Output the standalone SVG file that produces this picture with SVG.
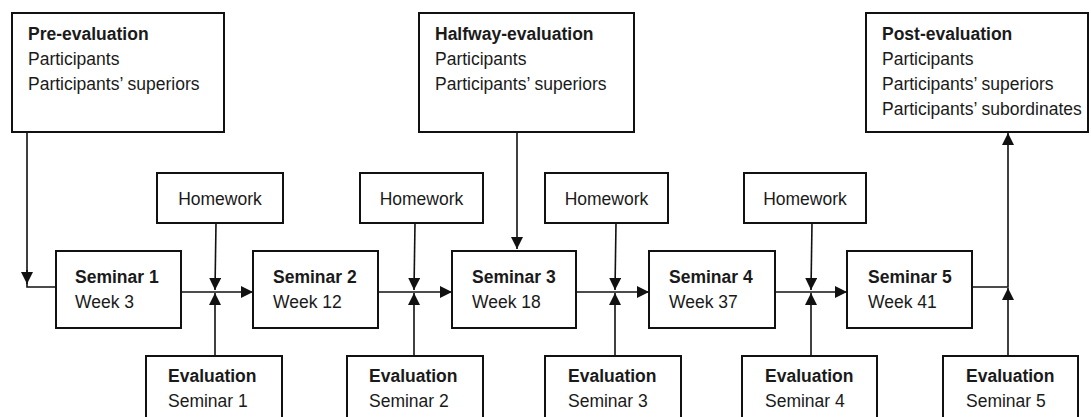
<svg xmlns="http://www.w3.org/2000/svg" width="1091" height="417" viewBox="0 0 1091 417">
<style>
  .box{fill:#fff;stroke:#111;stroke-width:2}
  .t{font-family:"Liberation Sans",Arial,sans-serif;font-size:17.5px;fill:#1a1a1a}
  .b{font-weight:bold}
  .c{text-anchor:middle}
  .ln{fill:none;stroke:#111;stroke-width:1.6}
</style>
<defs>
  <marker id="ah" markerUnits="userSpaceOnUse" markerWidth="12" markerHeight="12" refX="12" refY="6" orient="auto">
    <path d="M0,0 L12,6 L0,12 z" fill="#111"/>
  </marker>
</defs>
<rect width="1091" height="417" fill="#fff"/>

<g id="connectors">
  <polyline class="ln" points="27,132 27,287 56,287"/>
  <line class="ln" x1="27" y1="270" x2="27" y2="284" marker-end="url(#ah)"/>
  <line class="ln" x1="181" y1="292" x2="253" y2="292" marker-end="url(#ah)"/>
  <line class="ln" x1="378" y1="292" x2="452" y2="292" marker-end="url(#ah)"/>
  <line class="ln" x1="576" y1="292" x2="649" y2="292" marker-end="url(#ah)"/>
  <line class="ln" x1="775" y1="292" x2="847" y2="292" marker-end="url(#ah)"/>
  <line class="ln" x1="216" y1="223" x2="215" y2="290" marker-end="url(#ah)"/>
  <line class="ln" x1="415" y1="223" x2="414" y2="290" marker-end="url(#ah)"/>
  <line class="ln" x1="616" y1="223" x2="615" y2="290" marker-end="url(#ah)"/>
  <line class="ln" x1="812" y1="223" x2="811" y2="290" marker-end="url(#ah)"/>
  <line class="ln" x1="215" y1="356" x2="215" y2="293" marker-end="url(#ah)"/>
  <line class="ln" x1="414" y1="356" x2="414" y2="293" marker-end="url(#ah)"/>
  <line class="ln" x1="615" y1="356" x2="615" y2="293" marker-end="url(#ah)"/>
  <line class="ln" x1="811" y1="356" x2="811" y2="293" marker-end="url(#ah)"/>
  <line class="ln" x1="517" y1="132" x2="517" y2="249" marker-end="url(#ah)"/>
  <polyline class="ln" points="972,287 1008,287 1008,133" marker-end="url(#ah)"/>
  <line class="ln" x1="1008" y1="356" x2="1008" y2="288" marker-end="url(#ah)"/>
</g>

<g id="pre-evaluation">
  <rect class="box" x="12" y="13" width="212" height="119"/>
  <text class="t b" x="28" y="40">Pre-evaluation</text>
  <text class="t" x="28" y="65">Participants</text>
  <text class="t" x="28" y="90">Participants’ superiors</text>
</g>
<g id="halfway-evaluation">
  <rect class="box" x="419" y="13" width="215" height="119"/>
  <text class="t b" x="435" y="40">Halfway-evaluation</text>
  <text class="t" x="435" y="65">Participants</text>
  <text class="t" x="435" y="90">Participants’ superiors</text>
</g>
<g id="post-evaluation">
  <rect class="box" x="866" y="13" width="222" height="119"/>
  <text class="t b" x="882" y="40">Post-evaluation</text>
  <text class="t" x="882" y="65">Participants</text>
  <text class="t" x="882" y="90">Participants’ superiors</text>
  <text class="t" x="882" y="115">Participants’ subordinates</text>
</g>

<g id="homework-1"><rect class="box" x="157" y="173" width="126" height="50"/><text class="t c" x="220" y="205">Homework</text></g>
<g id="homework-2"><rect class="box" x="360" y="173" width="123" height="50"/><text class="t c" x="421.5" y="205">Homework</text></g>
<g id="homework-3"><rect class="box" x="545" y="173" width="123" height="50"/><text class="t c" x="606.5" y="205">Homework</text></g>
<g id="homework-4"><rect class="box" x="744" y="173" width="122" height="50"/><text class="t c" x="805" y="205">Homework</text></g>

<g id="seminar-1"><rect class="box" x="56" y="251" width="125" height="77"/><text class="t b" x="75" y="283">Seminar 1</text><text class="t" x="75" y="308">Week 3</text></g>
<g id="seminar-2"><rect class="box" x="253" y="251" width="125" height="77"/><text class="t b" x="273" y="283">Seminar 2</text><text class="t" x="273" y="308">Week 12</text></g>
<g id="seminar-3"><rect class="box" x="452" y="251" width="124" height="77"/><text class="t b" x="472" y="283">Seminar 3</text><text class="t" x="472" y="308">Week 18</text></g>
<g id="seminar-4"><rect class="box" x="649" y="251" width="126" height="77"/><text class="t b" x="669" y="283">Seminar 4</text><text class="t" x="669" y="308">Week 37</text></g>
<g id="seminar-5"><rect class="box" x="847" y="251" width="125" height="77"/><text class="t b" x="868" y="283">Seminar 5</text><text class="t" x="868" y="308">Week 41</text></g>

<g id="evaluation-1"><rect class="box" x="146" y="356" width="136" height="80"/><text class="t b" x="168" y="382">Evaluation</text><text class="t" x="168" y="407">Seminar 1</text></g>
<g id="evaluation-2"><rect class="box" x="347" y="356" width="136" height="80"/><text class="t b" x="369" y="382">Evaluation</text><text class="t" x="369" y="407">Seminar 2</text></g>
<g id="evaluation-3"><rect class="box" x="545" y="356" width="136" height="80"/><text class="t b" x="568" y="382">Evaluation</text><text class="t" x="568" y="407">Seminar 3</text></g>
<g id="evaluation-4"><rect class="box" x="742" y="356" width="135" height="80"/><text class="t b" x="765" y="382">Evaluation</text><text class="t" x="765" y="407">Seminar 4</text></g>
<g id="evaluation-5"><rect class="box" x="943" y="356" width="135" height="80"/><text class="t b" x="966" y="382">Evaluation</text><text class="t" x="966" y="407">Seminar 5</text></g>
</svg>
